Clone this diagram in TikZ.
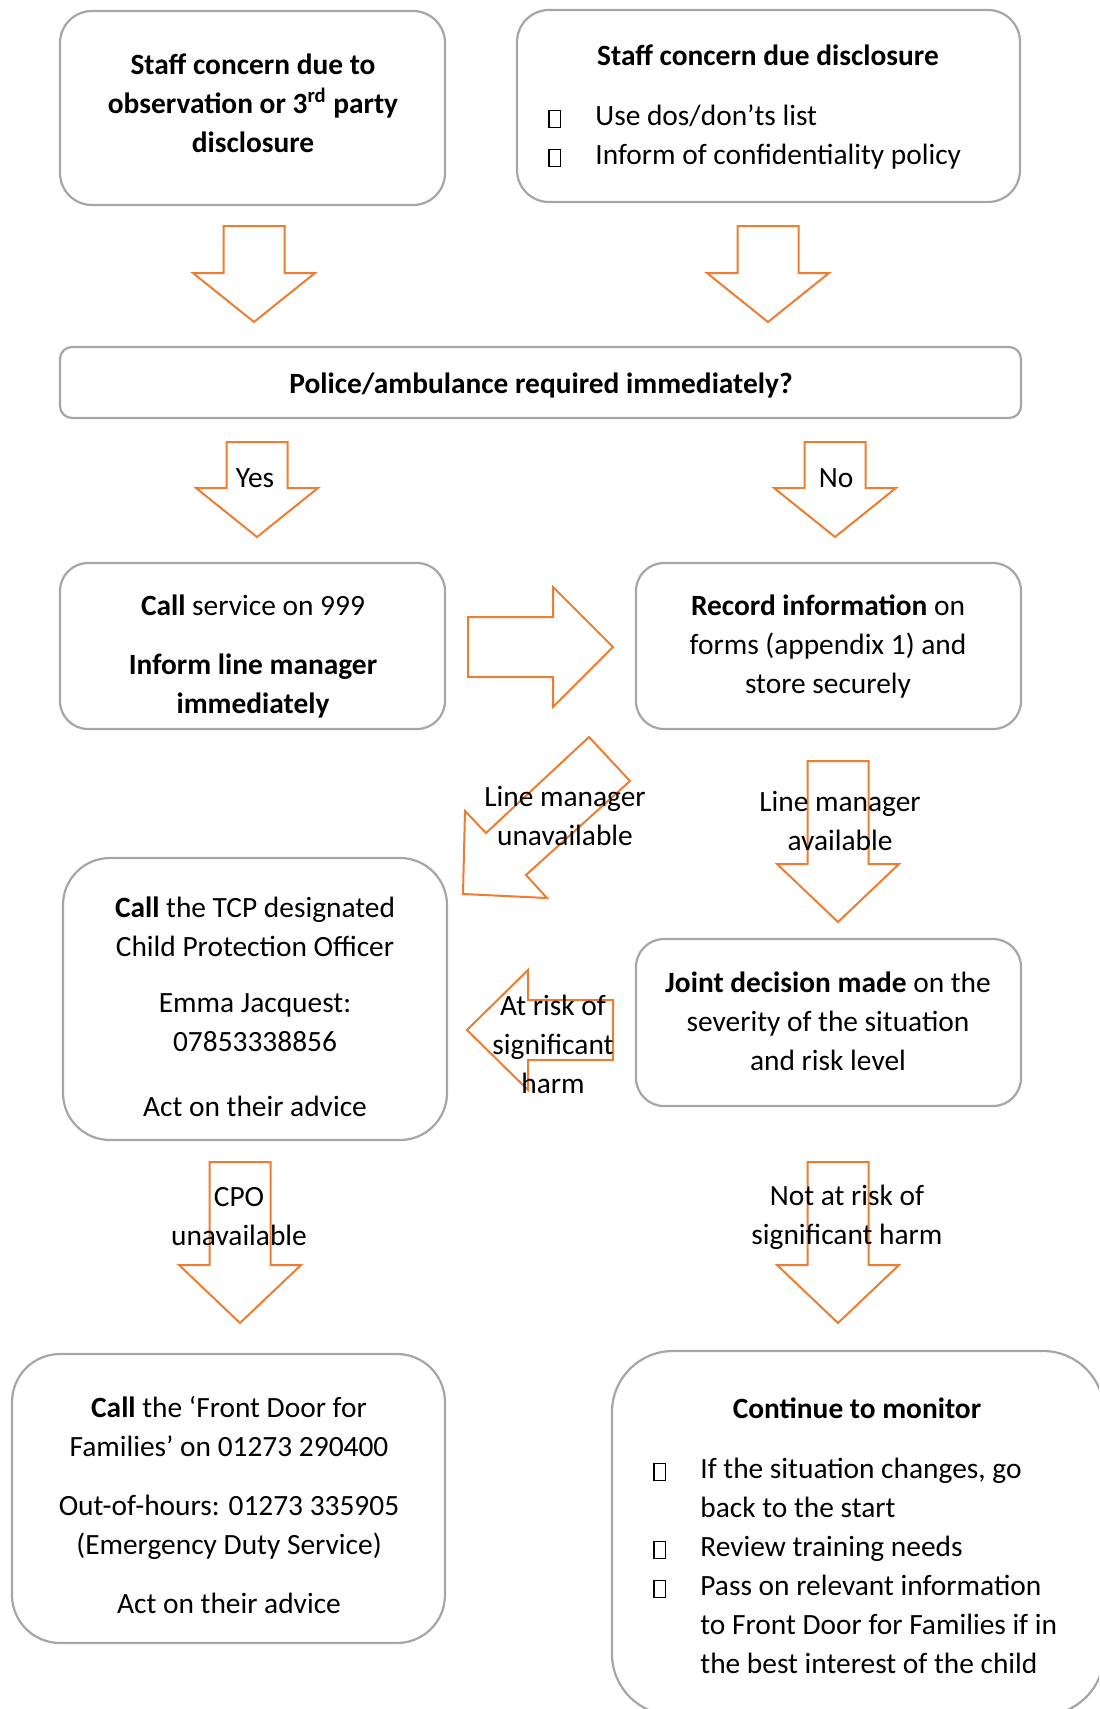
\documentclass[tikz,border=0pt]{standalone}
\usepackage{fontspec}
\setmainfont{Carlito}
\usetikzlibrary{positioning}
\definecolor{boxgray}{HTML}{A6A6A6}
\definecolor{arroworange}{HTML}{ED7D31}
\newcommand\sqbullet{{\setlength\fboxsep{0pt}\setlength\fboxrule{0.6pt}\raisebox{-0.8pt}{\fbox{\rule{0pt}{8pt}\rule{5pt}{0pt}}}}}
\newcommand\itm{\makebox[23.5pt][l]{\sqbullet}}
\begin{document}
\begin{tikzpicture}[x=0.5pt,y=-0.5pt,
box/.style={draw=boxgray,line width=1.1pt,fill=white,inner sep=0,outer sep=0},
txt/.style={align=center,inner sep=0,font=\fontsize{14.7}{19.5}\selectfont},
lst/.style={align=left,inner sep=0,font=\fontsize{14.7}{19.5}\selectfont},
blockarrow/.style={draw=arroworange,line width=1pt,fill=white,line join=miter}]
\useasboundingbox (0,0) rectangle (1099,1709);
\clip (0,0) rectangle (1099,1709);
%==================
\node[box,minimum width=192.5pt,minimum height=97pt,rounded corners=16pt] (obs) at (252.5,108) {};
\node[box,minimum width=251.5pt,minimum height=96pt,rounded corners=16pt] (disc) at (768.5,106) {};
\node[box,minimum width=480.5pt,minimum height=35.5pt,rounded corners=6pt] (police) at (540.5,382.5) {};
\node[box,minimum width=192.5pt,minimum height=83pt,rounded corners=14pt] (call) at (252.5,646) {};
\node[box,minimum width=192.5pt,minimum height=83pt,rounded corners=14pt] (rec) at (828.5,646) {};
\node[box,minimum width=192pt,minimum height=141pt,rounded corners=23.5pt] (tcp) at (255,999) {};
\node[box,minimum width=192.5pt,minimum height=83.5pt,rounded corners=14pt] (joint) at (828.5,1022.5) {};
\node[box,minimum width=216.5pt,minimum height=144.5pt,rounded corners=24pt] (fdf) at (228.5,1498.5) {};
\node[box,minimum width=246pt,minimum height=182pt,rounded corners=30.5pt] (mon) at (858,1533) {};
%==================
\node[txt] (obs-t) at (253,103) {\textbf{Staff concern due to}\\\textbf{observation or 3\textsuperscript{rd} party}\\\textbf{disclosure}};
\node[txt] (disc-t) at (768,55) {\textbf{Staff concern due disclosure}};
\node[lst,anchor=west] (disc-l) at (548,137) {\itm Use dos/don’ts list\\\itm Inform of confidentiality policy};
\node[txt] (police-t) at (541,385) {\textbf{Police/ambulance required immediately?}};
\node[txt] (call-t) at (253,656) {\textbf{Call} service on 999\\[10pt]\textbf{Inform line manager}\\\textbf{immediately}};
\node[txt] (rec-t) at (828,646.5) {\textbf{Record information} on\\forms (appendix 1) and\\store securely};
\node[txt] (tcp-t) at (255,1006.5) {\textbf{Call} the TCP designated\\Child Protection Officer\\[8.5pt]Emma Jacquest:\\07853338856\\[13pt]Act on their advice};
\node[txt] (joint-t) at (828,1021.5) {\textbf{Joint decision made} on the\\severity of the situation\\and risk level};
\node[txt] (fdf-t) at (229,1505) {\textbf{Call} the ‘Front Door for\\Families’ on 01273 290400\\[10pt]Out-of-hours: 01273 335905\\(Emergency Duty Service)\\[10pt]Act on their advice};
\node[txt] (mon-t) at (857,1408) {\textbf{Continue to monitor}};
\node[lst,anchor=west] (mon-l) at (653,1566) {\itm If the situation changes, go\\\hspace*{23.5pt}back to the start\\\itm Review training needs\\\itm Pass on relevant information\\\hspace*{23.5pt}to Front Door for Families if in\\\hspace*{23.5pt}the best interest of the child};
% ===================
\foreach \cx/\ty/\sy/\py in {254/226/273/322,768/226/273/322,257/442/488/537,835/442/488/537,
                             838/761/864/922,240/1162/1265/1323,838/1162/1265/1323}{
\draw[blockarrow] (\cx-30.5,\ty) -- (\cx+30.5,\ty) -- (\cx+30.5,\sy) -- (\cx+61,\sy) -- (\cx,\py)
                  -- (\cx-61,\sy) -- (\cx-30.5,\sy) -- cycle;
}
\draw[blockarrow] (468,617) -- (553,617) -- (553,587) -- (613,647) -- (553,707) -- (553,677) -- (468,677) -- cycle;
\draw[blockarrow] (613,1000) -- (528,1000) -- (528,970) -- (467,1030) -- (528,1090) -- (528,1060) -- (613,1060) -- cycle;
\draw[blockarrow] (589,737) -- (630,781) -- (526,875) -- (547,898) -- (463,894) -- (465,811) -- (486,833) -- cycle;
% ===================
\node[txt] (yes) at (255,478) {Yes};
\node[txt] (no) at (836,478) {No};
\node[txt] (lmu) at (565,816) {Line manager\\unavailable};
\node[txt] (lma) at (840,821) {Line manager\\available};
\node[txt] (risk) at (553,1044) {At risk of\\significant\\harm};
\node[txt] (cpo) at (239,1217) {CPO\\unavailable};
\node[txt] (norisk) at (847,1217) {Not at risk of\\significant harm};
\end{tikzpicture}
\end{document}
